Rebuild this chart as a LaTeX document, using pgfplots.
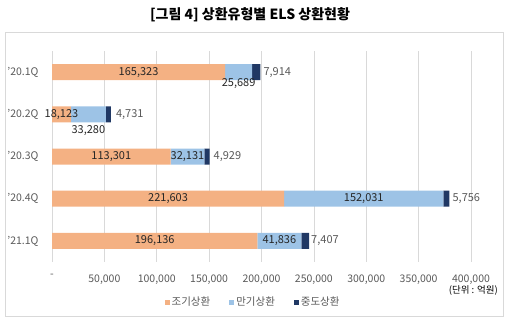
\documentclass[border=0pt]{standalone}
\usepackage{pgfplots}
\pgfplotsset{compat=1.18}
\usepackage{fontspec}
\setmainfont{Noto Sans CJK KR}
\definecolor{cEarly}{HTML}{F4B183}
\definecolor{cMat}{HTML}{9DC3E6}
\definecolor{cMid}{HTML}{203864}
\definecolor{cGrid}{HTML}{D9D9D9}
\definecolor{cTxt}{HTML}{262626}
\definecolor{cGray}{HTML}{595959}
\tikzset{inl/.style={font=\fontsize{11bp}{13bp}\selectfont, text=cTxt, inner sep=0pt},
  outl/.style={font=\fontsize{11bp}{13bp}\selectfont, text=cGray, inner sep=0pt, anchor=west}}
\pgfplotstableread{
y early mat mid
0 165323 25689 7914
1 18123 33280 4731
2 113301 32131 4929
3 221603 152031 5756
4 196136 41836 7407
}\data
\begin{document}
\begin{tikzpicture}
\useasboundingbox (-52bp,-61bp) rectangle (460bp,262bp);
\draw[cGrid, line width=0.6bp] (-47bp,-54bp) rectangle (451bp,230bp);
\node[font=\fontsize{14bp}{16bp}\selectfont\bfseries, text=black] at (198bp,247bp) {[그림 4] 상환유형별 ELS 상환현황};
\begin{axis}[
  at={(0,0)}, anchor=south west,
  scale only axis, width=419bp, height=211bp,
  xbar stacked, bar width=16bp,
  xmin=0, xmax=400000, ymin=-0.5, ymax=4.5, y dir=reverse,
  ytick={0,1,2,3,4},
  yticklabels={{'20.1Q},{'20.2Q},{'20.3Q},{'20.4Q},{'21.1Q}},
  xtick={0,50000,100000,150000,200000,250000,300000,350000,400000},
  xticklabels={{-},{50,000},{100,000},{150,000},{200,000},{250,000},{300,000},{350,000},{400,000}},
  scaled x ticks=false,
  xmajorgrids, grid style={cGrid, line width=0.6bp},
  axis line style={draw=none},
  major tick length=0pt,
  ticklabel style={font=\fontsize{10.5bp}{12bp}\selectfont, text=cGray},
  xticklabel style={yshift=-9bp},
  yticklabel style={xshift=-10bp},
  legend style={at={(0.48,-0.19)}, anchor=center, draw=none, fill=none,
    legend columns=-1, font=\fontsize{10.5bp}{12bp}\selectfont, text=cGray,
    /tikz/every even column/.append style={column sep=17bp}},
  legend cell align=left,
  clip=false,
]
\addplot[fill=cEarly, draw=none, legend image code/.code={\fill[cEarly] (-3bp,-2.5bp) rectangle (2bp,2.5bp);}] table[x=early, y=y] {\data};
\addlegendentry{조기상환}
\addplot[fill=cMat, draw=none, legend image code/.code={\fill[cMat] (-3bp,-2.5bp) rectangle (2bp,2.5bp);}] table[x=mat, y=y] {\data};
\addlegendentry{만기상환}
\addplot[fill=cMid, draw=none, legend image code/.code={\fill[cMid] (-3bp,-2.5bp) rectangle (2bp,2.5bp);}] table[x=mid, y=y] {\data};
\addlegendentry{중도상환}
\coordinate (a0) at (axis cs:82661.5,0);
\coordinate (a1) at (axis cs:9061.5,1);
\coordinate (a2) at (axis cs:56650.5,2);
\coordinate (a3) at (axis cs:110801.5,3);
\coordinate (a4) at (axis cs:98068,4);
\coordinate (b0) at (axis cs:178167.5,0.28);
\coordinate (b1) at (axis cs:34763,1.38);
\coordinate (b2) at (axis cs:129366.5,2);
\coordinate (b3) at (axis cs:297618.5,3);
\coordinate (b4) at (axis cs:217054,4);
\coordinate (c0) at (axis cs:198926,0);
\coordinate (c1) at (axis cs:56134,1);
\coordinate (c2) at (axis cs:150361,2);
\coordinate (c3) at (axis cs:379390,3);
\coordinate (c4) at (axis cs:245379,4);
\end{axis}
\node[inl] at (a0) {165,323};
\node[inl] at (a1) {18,123};
\node[inl] at (a2) {113,301};
\node[inl] at (a3) {221,603};
\node[inl] at (a4) {196,136};
\node[inl] at (b0) {25,689};
\node[inl] at (b1) {33,280};
\node[inl] at (b2) {32,131};
\node[inl] at (b3) {152,031};
\node[inl] at (b4) {41,836};
\node[outl, xshift=3bp] at (c0) {7,914};
\node[outl, xshift=5bp] at (c1) {4,731};
\node[outl, xshift=4bp] at (c2) {4,929};
\node[outl, xshift=3bp] at (c3) {5,756};
\node[outl, xshift=2bp] at (c4) {7,407};
\node[anchor=east, font=\fontsize{9.5bp}{11bp}\selectfont, text=black, inner sep=0pt] at (446bp,-29bp) {(단위 : 억원)};
\end{tikzpicture}
\end{document}
